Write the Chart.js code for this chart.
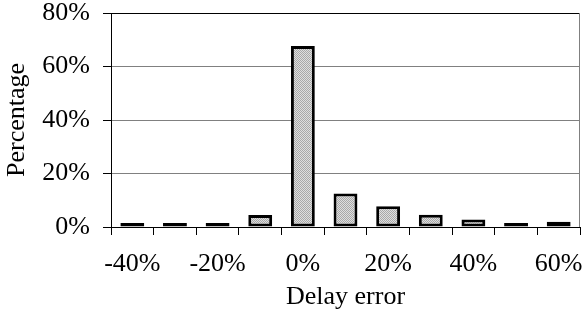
<!DOCTYPE html>
<html><head><meta charset="utf-8">
<script src="https://cdn.jsdelivr.net/npm/chart.js@4"></script>
<style>html,body{margin:0;padding:0;background:#fff}#wrap{width:584px;height:318px}</style>
</head><body><div id="wrap"><canvas id="c" width="584" height="318"></canvas></div>
<script>
const categories = ['-40%','-30%','-20%','-10%','0%','10%','20%','30%','40%','50%','60%'];
const percentages = [1.5, 1.5, 1.5, 4.5, 67.7, 12.5, 7.8, 4.6, 2.8, 1.5, 2.0];
const yTicks = [0, 20, 40, 60, 80];

function makePattern() {
  const p = document.createElement('canvas');
  p.width = 4; p.height = 4;
  const g = p.getContext('2d');
  g.fillStyle = '#dedede'; g.fillRect(0, 0, 4, 4);
  g.fillStyle = '#a8a8a8';
  for (let y = 0; y < 4; y++) for (let x = 0; x < 4; x++) if ((x + y) % 2 === 0) g.fillRect(x, y, 1, 1);
  return document.getElementById('c').getContext('2d').createPattern(p, 'repeat');
}

const serif = 'Liberation Serif, Times New Roman, serif';
const rightBorder = {
  id: 'rightBorder',
  afterDraw(chart) {
    const a = chart.chartArea, c = chart.ctx;
    c.save();
    c.strokeStyle = '#808080'; c.lineWidth = 1;
    c.beginPath();
    c.moveTo(Math.round(a.right) - 0.5, a.top);
    c.lineTo(Math.round(a.right) - 0.5, a.bottom);
    c.stroke();
    c.restore();
  }
};

new Chart(document.getElementById('c'), {
  type: 'bar',
  data: {
    labels: categories,
    datasets: [{
      data: percentages,
      backgroundColor: makePattern(),
      borderColor: '#000',
      borderWidth: 3,
      borderSkipped: false,
      barPercentage: 0.56,
      categoryPercentage: 1
    }]
  },
  options: {
    responsive: false,
    animation: false,
    devicePixelRatio: 1,
    layout: { padding: { top: 13, right: 4, bottom: 0, left: 0 } },
    plugins: { legend: { display: false }, tooltip: { enabled: false } },
    scales: {
      x: {
        grid: { offset: true, drawOnChartArea: false, drawTicks: true, tickLength: 8, tickColor: '#000', color: '#000' },
        border: { color: '#000', width: 1 },
        ticks: {
          autoSkip: false, maxRotation: 0, minRotation: 0, padding: 14, color: '#000',
          font: { family: serif, size: 26 },
          callback: (v, i) => (i % 2 === 0 ? categories[i] : '')
        },
        title: { display: true, text: 'Delay error', color: '#000', font: { family: serif, size: 26 }, padding: { top: 0, bottom: 5 } },
        afterFit: s => { s.height = 91; s.paddingLeft = 0; s.paddingRight = 0; }
      },
      y: {
        min: 0, max: 80,
        afterBuildTicks: s => { s.ticks = yTicks.map(v => ({ value: v })); },
        ticks: { padding: 13, color: '#000', font: { family: serif, size: 26, lineHeight: 1 }, callback: v => v + '%' },
        grid: {
          color: c => (c.tick && (c.tick.value === 80 || c.tick.value === 0)) ? '#000' : '#808080',
          tickColor: '#000', tickLength: 8, lineWidth: 1
        },
        border: { color: '#000', width: 1 },
        title: { display: true, text: 'Percentage', color: '#000', font: { family: serif, size: 26 }, padding: { top: 2, bottom: 0 } },
        afterFit: s => { s.width = 111; s.paddingTop = 0; s.paddingBottom = 0; }
      }
    }
  },
  plugins: [rightBorder]
});
</script>
</body></html>
